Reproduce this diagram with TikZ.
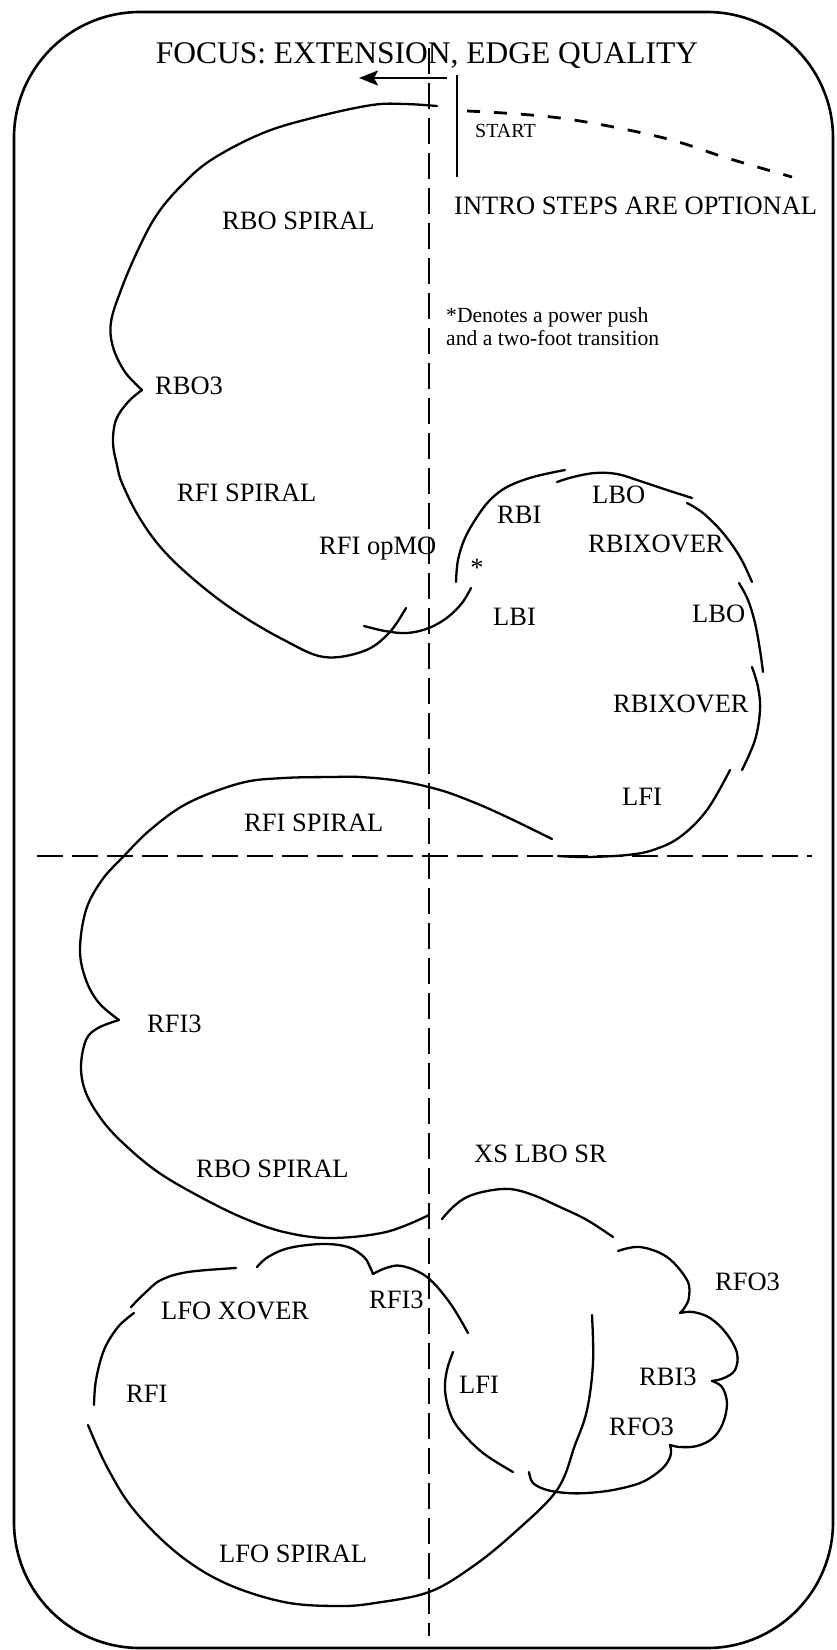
\documentclass[tikz,border=0pt]{standalone}
\usepackage{fontspec}
\setmainfont{Liberation Serif}
\usetikzlibrary{arrows.meta}
\begin{document}
\begin{tikzpicture}[x=1pt,y=-1pt,
  trace/.style={line width=2.3pt, line cap=round, line join=round},
  axisline/.style={line width=2.8pt, dash pattern=on 26pt off 9pt},
  introline/.style={line width=2.8pt, dash pattern=on 13pt off 14pt},
  lbl/.style={inner sep=0pt, anchor=base west, font=\fontsize{26.5}{30}\selectfont},
  small/.style={inner sep=0pt, anchor=base west, font=\fontsize{20}{24}\selectfont},
  note/.style={inner sep=0pt, anchor=base west, font=\fontsize{21.6}{23}\selectfont},
  sm/.style={smooth, tension=0.6}]
\useasboundingbox (0,0) rectangle (837,1650);
% frame
\draw[line width=2.6pt, rounded corners=126pt] (14,12) rectangle (833,1648);
% axes
\coordinate (vtop) at (429,48);
\coordinate (vbot) at (429,1636);
\coordinate (hl) at (37,856);
\coordinate (hr) at (812,856);
\draw[axisline] (vtop) -- (vbot);
\draw[axisline] (hl) -- (hr);
% title and notes
\node[inner sep=0pt, anchor=base, font=\fontsize{31.5}{34}\selectfont] (title) at (427,63.5) {FOCUS: EXTENSION, EDGE QUALITY};
\coordinate (arrS) at (447,78);
\coordinate (arrE) at (359,78);
\draw[line width=2.4pt, -{Stealth[length=19pt,width=15pt,inset=4pt]}] (arrS) -- (arrE);
\coordinate (st1) at (457,75);
\coordinate (st2) at (457,177);
\draw[line width=2.3pt] (st1) -- (st2);
\draw[introline] plot[sm] coordinates {(467,111) (560,118) (660,137) (727,158) (792,177)};
\node[small] (start) at (475,137) {START};
\node[lbl] (intro) at (454,214) {INTRO STEPS ARE OPTIONAL};
\node[note] (note1) at (446,322) {*Denotes a power push};
\node[note] (note2) at (446,345) {and a two-foot transition};
% labels
\node[lbl] (l1) at (222,229) {RBO SPIRAL};
\node[lbl] (l2) at (155,394) {RBO3};
\node[lbl] (l3) at (177,501) {RFI SPIRAL};
\node[lbl] (l4) at (319,554) {RFI opMO};
\node[lbl] (l5) at (497,523) {RBI};
\node[lbl] (l6) at (592,503) {LBO};
\node[lbl] (l7) at (588,552) {RBIXOVER};
\node[inner sep=0pt, font=\fontsize{26.5}{30}\selectfont] (star) at (477,568) {*};
\node[lbl] (l8) at (493,625) {LBI};
\node[lbl] (l9) at (692,622) {LBO};
\node[lbl] (l10) at (613,712) {RBIXOVER};
\node[lbl] (l11) at (622,805) {LFI};
\node[lbl] (l12) at (244,831) {RFI SPIRAL};
\node[lbl] (l13) at (147,1032) {RFI3};
\node[lbl] (l14) at (196,1177) {RBO SPIRAL};
\node[lbl] (l15) at (474,1162) {XS LBO SR};
\node[lbl] (l16) at (715,1290) {RFO3};
\node[lbl] (l17) at (369,1308) {RFI3};
\node[lbl] (l18) at (161,1319) {LFO XOVER};
\node[lbl] (l19) at (639,1385) {RBI3};
\node[lbl] (l20) at (459,1393) {LFI};
\node[lbl] (l21) at (126,1402) {RFI};
\node[lbl] (l22) at (609,1435) {RFO3};
\node[lbl] (l23) at (219,1562) {LFO SPIRAL};
% top-left loop (RBO spiral / RBO3)
\draw[trace] plot[sm] coordinates {(437,106) (405,104) (372,105) (316,117) (263,133) (211,160) (180,187) (156,216) (137,252) (121,290) (111,322) (113,347) (125,372) (142,390)};
\draw[trace] plot[sm] coordinates {(142,390) (128,402) (116,420) (113,443) (117,465) (122,483) (139,517) (163,550) (198,583) (238,613) (284,640) (324,657) (364,651) (389,633) (406,608)};
% connector arc
\draw[trace] plot[sm] coordinates {(364,626) (385,631) (407,633) (429,628) (448,617) (462,603) (471,588)};
% right loop pieces
\draw[trace] plot[sm] coordinates {(456,582) (458,560) (465,538) (477,517) (490,500) (507,487) (533,477) (565,470)};
\draw[trace] plot[sm] coordinates {(557,482) (573,477) (595,473) (617,474) (640,481) (667,490) (692,498)};
\draw[trace] plot[sm] coordinates {(687,503) (703,513) (723,533) (740,557) (752,582)};
\draw[trace] plot[sm] coordinates {(739,583) (748,600) (755,623) (760,650) (763,672)};
\draw[trace] plot[sm] coordinates {(752,667) (758,687) (760,710) (755,740) (742,770)};
\draw[trace] plot[sm] coordinates {(730,770) (707,810) (680,837) (653,850) (627,855) (587,857) (558,856)};
% RFI spiral loop with RFI3
\draw[trace] plot[sm] coordinates {(552,839) (507,817) (473,802) (440,790) (400,781) (360,777) (332,777) (284,778) (241,783) (188,803) (150,830) (123,857) (102,880) (86,910) (80,950) (86,980) (99,1003) (119,1020)};
\draw[trace] plot[sm] coordinates {(119,1020) (98,1028) (86,1040) (81,1067) (86,1093) (102,1120) (123,1143) (155,1170) (193,1193) (241,1217) (284,1232) (330,1238) (386,1232) (429,1215)};
% XS LBO SR
\draw[trace] plot[sm] coordinates {(442,1219) (453,1207) (467,1197) (487,1191) (510,1189) (533,1195) (560,1207) (587,1220) (613,1237)};
% RFO3 cloud
\draw[trace] plot[sm] coordinates {(618,1251) (640,1247) (667,1257) (687,1280) (689,1297) (685,1307) (680,1313)};
\draw[trace] plot[sm] coordinates {(680,1313) (693,1312) (710,1318) (726,1333) (737,1353) (735,1370) (724,1378) (712,1381)};
\draw[trace] plot[sm] coordinates {(712,1381) (722,1387) (727,1403) (723,1423) (713,1438) (697,1446) (680,1447) (670,1445)};
\draw[trace] plot[sm] coordinates {(670,1445) (671,1453) (667,1463) (657,1473) (640,1483) (613,1490) (587,1493) (567,1493) (547,1490) (533,1483) (529,1472)};
% lower left loop
\draw[trace] plot[sm] coordinates {(131,1307) (145,1293) (161,1280) (188,1272) (236,1268)};
\draw[trace] plot[sm] coordinates {(257,1267) (268,1257) (289,1248) (322,1244) (348,1247) (364,1257) (370,1267) (373,1274)};
\draw[trace] plot[sm] coordinates {(373,1274) (386,1268) (402,1266) (427,1277) (450,1303) (468,1333)};
\draw[trace] plot[sm] coordinates {(453,1352) (447,1370) (445,1390) (450,1413) (460,1430) (483,1453) (513,1472)};
\draw[trace] plot[sm] coordinates {(592,1315) (593,1363) (587,1410) (575,1445) (557,1490) (514,1533) (472,1567) (429,1592) (375,1603) (338,1606) (284,1602) (225,1583) (177,1553) (134,1510) (107,1467) (88,1425)};
\draw[trace] plot[sm] coordinates {(94,1405) (96,1380) (104,1350) (118,1327) (134,1313)};
\end{tikzpicture}
\end{document}
